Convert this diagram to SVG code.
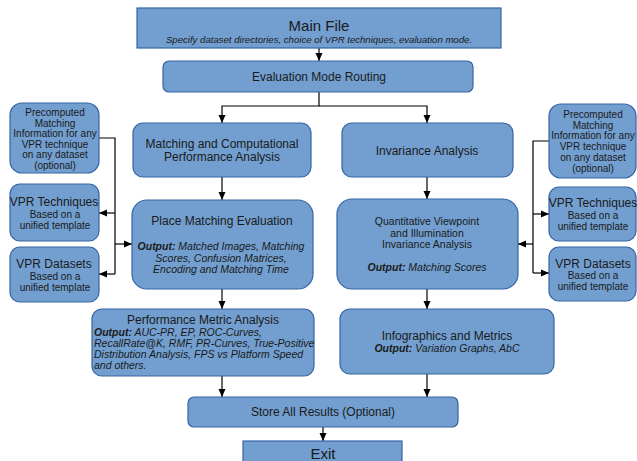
<svg xmlns="http://www.w3.org/2000/svg" width="637" height="461" viewBox="0 0 637 461">
<style>
.b{fill:#729fcf;stroke:#3465a4;stroke-width:1.2}
text{font-family:"Liberation Sans",Arial,sans-serif;fill:#1a1a1a;text-anchor:middle}
.t12{font-size:12px}
.t10{font-size:10.5px}
.s{font-size:10px}
.i{font-style:italic}
.bo{font-weight:bold}
.l{text-anchor:start}
.c{fill:none;stroke:#000;stroke-width:1.2}
</style>
<defs>
<marker id="a" viewBox="0 0 8 8" refX="8" refY="4" markerWidth="8" markerHeight="8" markerUnits="userSpaceOnUse" orient="auto">
<path d="M0,0.5 L8,4 L0,7.5 Z" fill="#000"/>
</marker>
</defs>
<rect width="637" height="461" fill="#fff"/>
<g id="connectors">
<path class="c" d="M319,48 V61" marker-end="url(#a)"/>
<path class="c" d="M319,92 V106 H222 V123" marker-end="url(#a)"/>
<path class="c" d="M319,106 H427 V123" marker-end="url(#a)"/>
<path class="c" d="M222,177 V200" marker-end="url(#a)"/>
<path class="c" d="M427,177 V199" marker-end="url(#a)"/>
<path class="c" d="M222,289 V309" marker-end="url(#a)"/>
<path class="c" d="M427,289 V309" marker-end="url(#a)"/>
<path class="c" d="M222,376 V397" marker-end="url(#a)"/>
<path class="c" d="M427,374 V397" marker-end="url(#a)"/>
<path class="c" d="M323,427 V441" marker-end="url(#a)"/>
<path class="c" d="M99,138 H115 V274"/>
<path class="c" d="M115,213 H99" marker-end="url(#a)"/>
<path class="c" d="M115,274 H99" marker-end="url(#a)"/>
<path class="c" d="M115,244 H132" stroke-width="2" marker-end="url(#a)"/>
<path class="c" d="M549,141 H533 V273"/>
<path class="c" d="M533,214 H549" marker-end="url(#a)"/>
<path class="c" d="M533,273 H549" marker-end="url(#a)"/>
<path class="c" d="M533,244 H518" stroke-width="2" marker-end="url(#a)"/>
</g>
<g id="main">
<rect class="b" x="137" y="8" width="364" height="40"/>
<text x="319" y="31" font-size="15">Main File</text>
<text x="319" y="43" class="i" font-size="9.6">Specify dataset directories, choice of VPR techniques, evaluation mode.</text>
</g>
<g id="routing">
<rect class="b" x="163" y="61" width="310" height="31" rx="6"/>
<text x="319" y="81" class="t12" font-size="11.5">Evaluation Mode Routing</text>
</g>
<g id="matching">
<rect class="b" x="133" y="123" width="178" height="54" rx="10"/>
<text x="222" y="148" class="t12">Matching and Computational</text>
<text x="222" y="161" class="t12">Performance Analysis</text>
</g>
<g id="invariance">
<rect class="b" x="342" y="123" width="171" height="54" rx="10"/>
<text x="427" y="155" class="t12">Invariance Analysis</text>
</g>
<g id="place">
<rect class="b" x="132" y="200" width="181" height="89" rx="15"/>
<text x="222" y="225" class="t12">Place Matching Evaluation</text>
<text x="221" y="250" class="t10 i"><tspan class="bo">Output:</tspan> Matched Images, Matching</text>
<text x="221" y="262" class="t10 i">Scores, Confusion Matrices,</text>
<text x="221" y="273" class="t10 i">Encoding and Matching Time</text>
</g>
<g id="quant">
<rect class="b" x="337" y="199" width="181" height="90" rx="15"/>
<text x="427" y="225" class="t10">Quantitative Viewpoint</text>
<text x="427" y="237" class="t10">and Illumination</text>
<text x="427" y="248" class="t10">Invariance Analysis</text>
<text x="427" y="271" class="t10 i"><tspan class="bo">Output:</tspan> Matching Scores</text>
</g>
<g id="pre-left">
<rect class="b" x="10" y="103" width="89" height="70" rx="12"/>
<text x="55" y="116" class="s">Precomputed</text>
<text x="55" y="127" class="s">Matching</text>
<text x="55" y="137" class="s">Information for any</text>
<text x="55" y="148" class="s">VPR technique</text>
<text x="55" y="158" class="s">on any dataset</text>
<text x="55" y="169" class="s">(optional)</text>
</g>
<g id="tech-left">
<rect class="b" x="10" y="184" width="89" height="57" rx="10"/>
<text x="54" y="206" class="t12">VPR Techniques</text>
<text x="55" y="218" class="s">Based on a</text>
<text x="55" y="229" class="s">unified template</text>
</g>
<g id="data-left">
<rect class="b" x="10" y="247" width="89" height="55" rx="10"/>
<text x="54" y="268" class="t12">VPR Datasets</text>
<text x="55" y="280" class="s">Based on a</text>
<text x="55" y="291" class="s">unified template</text>
</g>
<g id="pre-right">
<rect class="b" x="549" y="104" width="87" height="74" rx="12"/>
<text x="593" y="118" class="s">Precomputed</text>
<text x="593" y="129" class="s">Matching</text>
<text x="593" y="139" class="s">Information for any</text>
<text x="593" y="150" class="s">VPR technique</text>
<text x="593" y="161" class="s">on any dataset</text>
<text x="593" y="172" class="s">(optional)</text>
</g>
<g id="tech-right">
<rect class="b" x="549" y="187" width="87" height="54" rx="10"/>
<text x="593" y="207" class="t12">VPR Techniques</text>
<text x="593" y="219" class="s">Based on a</text>
<text x="593" y="230" class="s">unified template</text>
</g>
<g id="data-right">
<rect class="b" x="549" y="247" width="87" height="54" rx="10"/>
<text x="593" y="268" class="t12">VPR Datasets</text>
<text x="593" y="279" class="s">Based on a</text>
<text x="593" y="290" class="s">unified template</text>
</g>
<g id="perf">
<rect class="b" x="92" y="309" width="222" height="67" rx="10"/>
<text x="203" y="324" class="t12">Performance Metric Analysis</text>
<text x="94" y="336" class="t10 i l"><tspan class="bo">Output:</tspan> AUC-PR, EP, ROC-Curves,</text>
<text x="94" y="347" class="t10 i l">RecallRate@K, RMF, PR-Curves, True-Positive</text>
<text x="94" y="358" class="t10 i l">Distribution Analysis, FPS vs Platform Speed</text>
<text x="94" y="369" class="t10 i l">and others.</text>
</g>
<g id="info">
<rect class="b" x="340" y="309" width="214" height="65" rx="10"/>
<text x="447" y="340" class="t12">Infographics and Metrics</text>
<text x="447" y="352" class="t10 i"><tspan class="bo">Output:</tspan> Variation Graphs, AbC</text>
</g>
<g id="store">
<rect class="b" x="188" y="397" width="270" height="30" rx="6"/>
<text x="323" y="416" class="t12">Store All Results (Optional)</text>
</g>
<g id="exit">
<rect class="b" x="243" y="441" width="159" height="30"/>
<text x="323" y="459" font-size="15">Exit</text>
</g>
</svg>
